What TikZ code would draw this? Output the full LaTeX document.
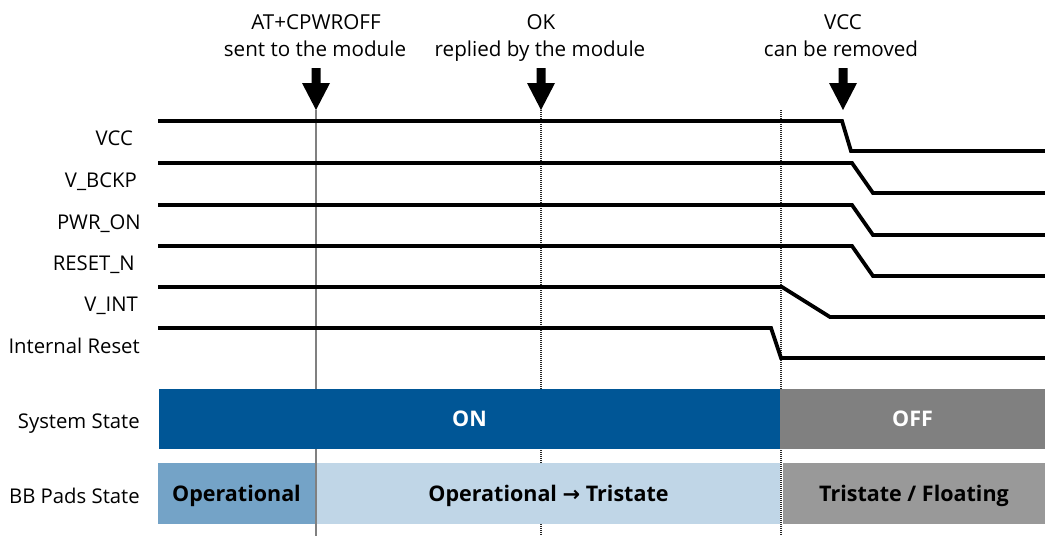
\documentclass[tikz,border=0pt]{standalone}
\usepackage{fontspec}
\setmainfont{Open Sans}
\newfontfamily\symfont{DejaVu Sans}
\definecolor{onblue}{RGB}{0,86,150}
\definecolor{offgray}{RGB}{128,128,128}
\definecolor{opblue}{RGB}{116,163,199}
\definecolor{ltblue}{RGB}{192,214,231}
\definecolor{trigray}{RGB}{153,153,153}
\definecolor{vgray}{RGB}{128,128,128}
\begin{document}
\begin{tikzpicture}[x=1pt,y=-1pt,
  sig/.style={line width=3.8pt,line join=miter},
  lbl/.style={anchor=east,inner sep=0pt,text height=14.6pt,text depth=0pt,font=\fontsize{20.3}{22}\selectfont},
  top/.style={inner sep=0pt,text height=14.8pt,text depth=0pt,font=\fontsize{20.6}{22}\selectfont},
  bar/.style={inner sep=0pt,anchor=center,text height=15.4pt,text depth=0pt,font=\fontsize{21.5}{23}\selectfont\bfseries},
  evarrow/.style={fill=black,draw=none},
  vline/.style={line width=2pt,vgray},
  vdot/.style={line width=1.8pt,black!85,dash pattern=on 1pt off 1pt}]
\useasboundingbox (0,0) rectangle (1045,536);
% vertical time markers
\coordinate (t1a) at (316,110); \coordinate (t1b) at (316,536);
\coordinate (t2a) at (541,110); \coordinate (t2b) at (541,536);
\coordinate (t3a) at (781,110); \coordinate (t3b) at (781,536);
\draw[vline] (t1a) -- (t1b);
\draw[vdot] (t2a) -- (t2b);
\draw[vdot] (t3a) -- (t3b);
% state bars
\node[bar,fill=onblue,text=white,minimum width=621pt,minimum height=60pt] (on) at (469.5,419) {ON};
\node[bar,fill=offgray,text=white,minimum width=265pt,minimum height=60pt] (off) at (912.5,419) {OFF};
\node[bar,fill=opblue,minimum width=157pt,minimum height=61pt] (op) at (236.5,493.5) {Operational};
\node[bar,fill=ltblue,minimum width=463pt,minimum height=61pt] (optri) at (548.5,493.5) {Operational {\symfont\bfseries\fontsize{21}{23}\selectfont →} Tristate};
\node[bar,fill=trigray,minimum width=262pt,minimum height=61pt] (tri) at (914,493.5) {Tristate / Floating};
% signals
\draw[sig] (158,121) -- (842,121) -- (851,151) -- (1045,151);
\draw[sig] (158,163) -- (852,163) -- (873,193) -- (1045,193);
\draw[sig] (158,205) -- (852,205) -- (873,235) -- (1045,235);
\draw[sig] (158,246) -- (852,246) -- (873,276) -- (1045,276);
\draw[sig] (158,287) -- (782,287) -- (830,317) -- (1045,317);
\draw[sig] (158,328) -- (771,328) -- (781,358) -- (1045,358);
% signal labels
\node[lbl] (lvcc) at (133,138) {VCC};
\node[lbl] (lbckp) at (137,180) {V\_BCKP};
\node[lbl] (lpwr) at (141,222) {PWR\_ON};
\node[lbl] (lrst) at (135,263) {RESET\_N};
\node[lbl] (lvint) at (138,304) {V\_INT};
\node[lbl] (lirst) at (140,346) {Internal Reset};
\node[lbl] (lsys) at (140,421) {System State};
\node[lbl] (lbb) at (140,496) {BB Pads State};
% event labels
\node[top] (e1a) at (316,22) {AT+CPWROFF};
\node[top] (e1b) at (315,49) {sent to the module};
\node[top] (e2a) at (541,22) {OK};
\node[top] (e2b) at (540,49) {replied by the module};
\node[top] (e3a) at (843,22) {VCC};
\node[top] (e3b) at (841,49) {can be removed};
% arrows
\foreach \x in {316,541,843}{
  \fill[evarrow] (\x-4.5,68) -- (\x+4.5,68) -- (\x+4.5,83) -- (\x+14,83) -- (\x,110) -- (\x-14,83) -- (\x-4.5,83) -- cycle;
}
\end{tikzpicture}
\end{document}
